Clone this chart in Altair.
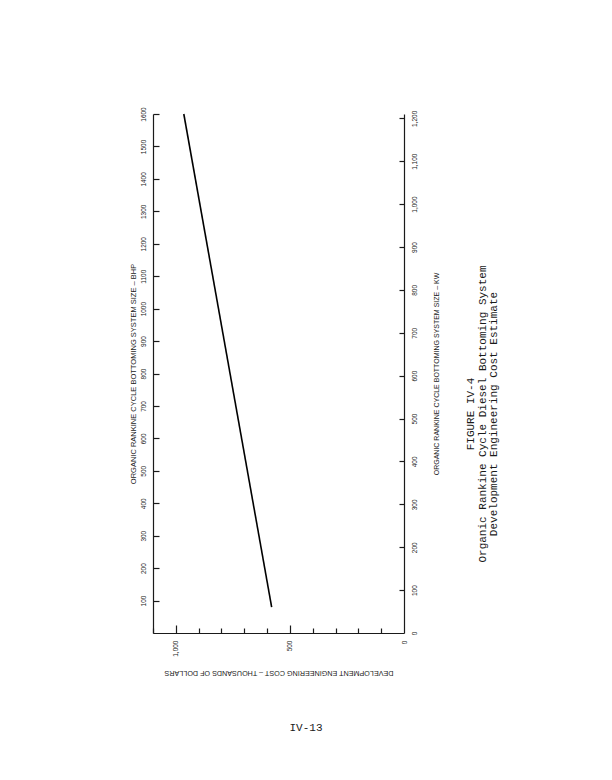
import altair as alt
import pandas as pd

# ---- data ----
bhp = [80, 1600]                 # system size, BHP (line end points)
cost = [580, 965]                # development engineering cost, thousands of $
bhp_ticks = [100, 200, 300, 400, 500, 600, 700, 800, 900, 1000, 1100, 1200, 1300, 1400, 1500, 1600]
kw_ticks = [0, 100, 200, 300, 400, 500, 600, 700, 800, 900, 1000, 1100, 1200]
cost_labels = [0, 500, 1000]
cost_minor = [100, 200, 300, 400, 600, 700, 800, 900, 1100]
cost_major = [500, 1000]
caption = ["FIGURE IV-4",
           "Organic Rankine Cycle Diesel Bottoming System",
           "Development Engineering Cost Estimate"]
page_no = "IV-13"
title_bhp = "ORGANIC RANKINE CYCLE BOTTOMING SYSTEM SIZE – BHP"
title_kw = "ORGANIC RANKINE CYCLE BOTTOMING SYSTEM SIZE – KW"
title_cost = "DEVELOPMENT ENGINEERING COST – THOUSANDS OF DOLLARS"

line_df = pd.DataFrame({"bhp": bhp, "cost": cost})
kw_df = pd.DataFrame({"kw": kw_ticks})
one = pd.DataFrame({"k": [0]})

W, H = 251, 519
INK = "#1a1a1a"
SANS = "Liberation Sans"
MONO = "Liberation Mono"
LFS = 6.5

def xs():
    return alt.Scale(domain=[0, 1100], reverse=True, nice=False, zero=False)

def ys():
    return alt.Scale(domain=[0, 1600], nice=False, zero=False)

def kws():
    return alt.Scale(domain=[0, 1210], nice=False, zero=False)

# main line with the labelled axes
main = alt.Chart(line_df).mark_line(color="#000", strokeWidth=1.6).encode(
    x=alt.X("cost:Q", scale=xs(), axis=alt.Axis(
        orient="bottom", values=cost_labels, format=",d", grid=False,
        ticks=False, tickSize=0, domain=True, domainColor=INK, domainWidth=1.2,
        labelAngle=270, labelAlign="right", labelBaseline="middle",
        labelPadding=7, labelFontSize=LFS, labelFont=SANS, labelColor=INK,
        labelOverlap=False, labelFlush=False,
        title=title_cost, titleAngle=180, titleBaseline="bottom", titleAlign="center",
        titleFont=SANS, titleFontSize=7.2, titleFontWeight="normal", titleColor=INK,
        titlePadding=12)),
    y=alt.Y("bhp:Q", scale=ys(), axis=alt.Axis(
        orient="left", values=bhp_ticks, format="d", grid=False,
        ticks=False, tickSize=0, domain=True, domainColor=INK, domainWidth=1.2,
        labelAngle=270, labelAlign="center", labelBaseline="bottom",
        labelPadding=7, labelFontSize=LFS, labelFont=SANS, labelColor=INK,
        labelOverlap=False, labelFlush=False,
        title=title_bhp, titleAngle=270, titleBaseline="bottom", titleAlign="center",
        titleFont=SANS, titleFontSize=7.5, titleFontWeight="normal", titleColor=INK,
        titlePadding=3)),
)

# inward minor ticks for the cost axis
ticks_a = alt.Chart(line_df).mark_line(opacity=0).encode(
    x=alt.X("cost:Q", scale=xs(), axis=alt.Axis(
        orient="bottom", offset=-5, values=cost_minor, tickSize=5, tickWidth=1.2,
        tickColor=INK, labels=False, domain=False, grid=False, title=None)),
    y=alt.Y("bhp:Q", scale=ys(), axis=None),
)

# inward ticks for the BHP axis
ticks_c = alt.Chart(line_df).mark_line(opacity=0).encode(
    y=alt.Y("bhp:Q", scale=ys(), axis=alt.Axis(
        orient="left", offset=-6, values=bhp_ticks, tickSize=6, tickWidth=1.2,
        tickColor=INK, labels=False, domain=False, grid=False, title=None)),
)

# longer inward major ticks on the cost axis
ticks_b = alt.Chart(line_df).mark_line(opacity=0).encode(
    x=alt.X("cost:Q", scale=xs(), axis=alt.Axis(
        orient="bottom", offset=-8, values=cost_major, tickSize=8, tickWidth=1.2,
        tickColor=INK, labels=False, domain=False, grid=False, title=None)),
    y=alt.Y("bhp:Q", scale=ys(), axis=None),
)

# right-hand kW axis
kw_axis = alt.Chart(kw_df).mark_point(opacity=0).encode(
    y=alt.Y("kw:Q", scale=kws(), axis=alt.Axis(
        orient="right", values=kw_ticks, format=",d", grid=False,
        ticks=False, tickSize=0, domain=True, domainColor=INK, domainWidth=1.2,
        labelAngle=270, labelAlign="center", labelBaseline="top",
        labelPadding=7, labelFontSize=LFS, labelFont=SANS, labelColor=INK,
        labelOverlap=False, labelFlush=False,
        title=title_kw, titleAngle=270, titleBaseline="top", titleAlign="center",
        titleFont=SANS, titleFontSize=7, titleFontWeight="normal", titleColor=INK,
        titlePadding=15)),
)

kw_ticks_layer = alt.Chart(kw_df).mark_point(opacity=0).encode(
    y=alt.Y("kw:Q", scale=kws(), axis=alt.Axis(
        orient="right", offset=-5, values=kw_ticks[1:], tickSize=5, tickWidth=1.2,
        tickColor=INK, labels=False, domain=False, grid=False, title=None)),
)

cap = alt.Chart(one).mark_text(
    angle=270, font=MONO, fontSize=11, lineHeight=11.5, align="center",
    baseline="middle", color=INK,
).encode(x=alt.value(318), y=alt.value(300), text=alt.value(caption))

page = alt.Chart(one).mark_text(
    font=MONO, fontSize=11, align="center", baseline="middle", color=INK,
).encode(x=alt.value(153), y=alt.value(614), text=alt.value(page_no))

chart = alt.layer(main, ticks_a, ticks_c, ticks_b, kw_axis, kw_ticks_layer, cap, page).resolve_scale(
    x="independent", y="independent"
).resolve_axis(
    x="independent", y="independent"
).properties(
    width=W, height=H,
    background="white",
    autosize=alt.AutoSizeParams(type="none"),
    padding={"left": 145, "top": 106, "right": 190, "bottom": 130},
).configure_view(strokeWidth=0, stroke="transparent")

chart.save("out.html", embed_options={"renderer": "svg", "actions": False})
